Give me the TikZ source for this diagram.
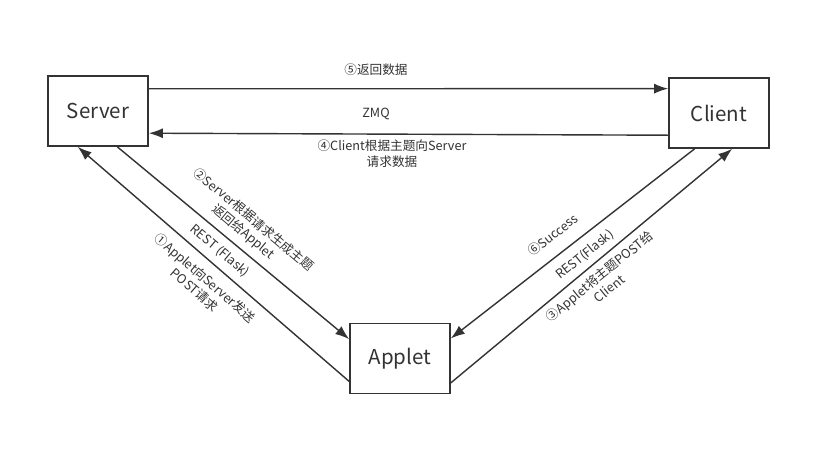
\documentclass[tikz,border=0pt]{standalone}
\usepackage{fontspec}
\setmainfont{Noto Sans CJK SC}
\usetikzlibrary{arrows.meta,calc,positioning}
\definecolor{inkgray}{HTML}{333333}

\begin{document}
\begin{tikzpicture}[x=0.03cm,y=-0.03cm,
    box/.style={draw=inkgray,line width=1.4pt,minimum width=3cm,minimum height=2.1cm,text=inkgray,font=\fontsize{17.5}{20}\selectfont},
    link/.style={inkgray,line width=1.2pt},
    tip/.style={-{Latex[length=4.2mm,width=3mm]}},
    lbl/.style={text=inkgray,font=\fontsize{10.8}{13.5}\selectfont,align=center,inner sep=0pt}]
      \useasboundingbox[fill=white] (0,0) rectangle (831,456);
      % Draw the three boxes
      \node[box] (server) at (98,111) {Server};
      \node[box] (client) at (719,113) {Client};
      \node[box] (applet) at (400,358.5) {Applet};
      % Server <-> Client (ZMQ)
      \draw[link,tip] ($(server.north east)!0.19!(server.south east)$) -- ($(client.north west)!0.16!(client.south west)$);
      \draw[link,tip] ($(client.north west)!0.81!(client.south west)$) -- ($(server.north east)!0.81!(server.south east)$);
      % Server <-> Applet
      \draw[link,tip] ($(server.south west)!0.69!(server.south east)$) -- ($(applet.north west)!0.23!(applet.south west)$);
      \draw[link,tip] ($(applet.north west)!0.82!(applet.south west)$) -- ($(server.south west)!0.30!(server.south east)$);
      % Client <-> Applet
      \draw[link,tip] ($(client.south west)!0.26!(client.south east)$) -- ($(applet.north east)!0.22!(applet.south east)$);
      \draw[link,tip] ($(applet.north east)!0.84!(applet.south east)$) -- ($(client.south west)!0.63!(client.south east)$);
      % label the top links
      \node[lbl] (ret) at (376,70) {⑤返回数据};
      \node[lbl] (zmq) at (376,114) {ZMQ};
      \node[lbl] (ask) at (392,154) {④Client根据主题向Server\\请求数据};
      % label the left links
      \node[lbl,rotate=-40] (gen) at (248,226) {②Server根据请求生成主题\\返回给Applet};
      \node[lbl,rotate=-40] (restl) at (220,251) {REST (Flask)};
      \node[lbl,rotate=-41] (post) at (200,284) {①Applet向Server发送\\POST请求};
      % label the right links
      \node[lbl,rotate=38] (ok) at (553,235) {⑥Success};
      \node[lbl,rotate=39] (restr) at (585,255) {REST(Flask)};
      \node[lbl,rotate=39] (push) at (604,282) {③Applet将主题POST给\\Client};
\end{tikzpicture}
\end{document}
